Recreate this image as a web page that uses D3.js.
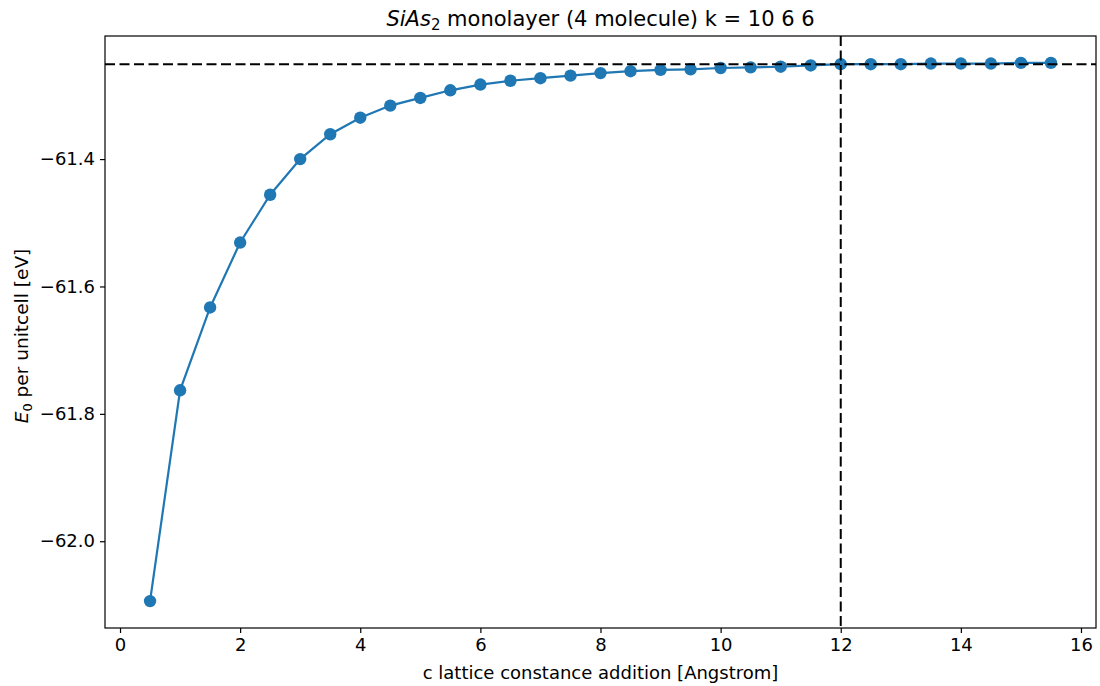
<!DOCTYPE html>
<html>
<head>
<meta charset="utf-8">
<script src="https://cdn.jsdelivr.net/npm/d3@7"></script>
<style>
  body { margin: 0; background: #fff; }
  text { font-family: "DejaVu Sans", sans-serif; fill: #000; }
</style>
</head>
<body>
<div id="chart"></div>
<script>
// c lattice addition [Angstrom]
var cAdd = [0.5, 1.0, 1.5, 2.0, 2.5, 3.0, 3.5, 4.0, 4.5, 5.0, 5.5, 6.0, 6.5, 7.0, 7.5, 8.0,
            8.5, 9.0, 9.5, 10.0, 10.5, 11.0, 11.5, 12.0, 12.5, 13.0, 13.5, 14.0, 14.5, 15.0, 15.5];
// E0 per unitcell [eV]
var energy = [-62.094, -61.763, -61.633, -61.531, -61.456, -61.400, -61.361, -61.335, -61.316,
              -61.304, -61.292, -61.283, -61.277, -61.273, -61.269, -61.265, -61.262, -61.260,
              -61.259, -61.257, -61.256, -61.255, -61.253, -61.251, -61.251, -61.251, -61.250,
              -61.250, -61.250, -61.249, -61.249];
var xTicks = [0, 2, 4, 6, 8, 10, 12, 14, 16];
var yTicks = [-61.4, -61.6, -61.8, -62.0];
var cutoff = 12;

var data = cAdd.map(function (c, i) { return { c: c, e: energy[i] }; });
var eCut = energy[cAdd.indexOf(cutoff)];

var margin = { top: 36, right: 4, bottom: 58, left: 105 };
var width = 1100 - margin.left - margin.right;
var height = 686 - margin.top - margin.bottom;

var svg = d3.select("#chart").append("svg")
    .attr("width", 1100)
    .attr("height", 686);

var g = svg.append("g")
    .attr("transform", "translate(" + margin.left + "," + margin.top + ")");

// matplotlib style 5% margins
var xExt = d3.extent(cAdd), yExt = d3.extent(energy);
var xPad = (xExt[1] - xExt[0]) * 0.05, yPad = (yExt[1] - yExt[0]) * 0.05;

var x = d3.scaleLinear()
    .domain([xExt[0] - xPad, xExt[1] + xPad])
    .range([0, width]);
var y = d3.scaleLinear()
    .domain([yExt[0] - yPad, yExt[1] + yPad])
    .range([height, 0]);

var fmt = function (d) { return d3.format(".1f")(d).replace("-", "\u2212"); };

var xAxis = g.append("g")
    .attr("transform", "translate(0," + height + ")")
    .call(d3.axisBottom(x).tickValues(xTicks).tickSize(5).tickPadding(5).tickFormat(d3.format("d")));
var yAxis = g.append("g")
    .call(d3.axisLeft(y).tickValues(yTicks).tickSize(5).tickPadding(5).tickFormat(fmt));

[xAxis, yAxis].forEach(function (ax) {
    ax.select(".domain").remove();
    ax.selectAll("line").attr("stroke", "#000").attr("stroke-width", 1.2);
    ax.selectAll("text").attr("font-size", 18).attr("font-family", "DejaVu Sans").attr("fill", "#000");
});

// data line + markers
var valueline = d3.line()
    .x(function (d) { return x(d.c); })
    .y(function (d) { return y(d.e); });

g.append("path")
    .datum(data)
    .attr("d", valueline)
    .attr("fill", "none")
    .attr("stroke", "#1f77b4")
    .attr("stroke-width", 2.2);

g.selectAll(".pt")
    .data(data)
    .enter().append("circle")
    .attr("class", "pt")
    .attr("cx", function (d) { return x(d.c); })
    .attr("cy", function (d) { return y(d.e); })
    .attr("r", 6.2)
    .attr("fill", "#1f77b4");

// reference lines
g.append("line")
    .attr("x1", 0).attr("x2", width)
    .attr("y1", y(eCut)).attr("y2", y(eCut))
    .attr("stroke", "#000").attr("stroke-width", 2)
    .attr("stroke-dasharray", "10,4.5");
g.append("line")
    .attr("x1", x(cutoff)).attr("x2", x(cutoff))
    .attr("y1", 0).attr("y2", height)
    .attr("stroke", "#000").attr("stroke-width", 2)
    .attr("stroke-dasharray", "10,4.5");

// frame
g.append("rect")
    .attr("width", width).attr("height", height)
    .attr("fill", "none").attr("stroke", "#000").attr("stroke-width", 1.2);

// title
var title = svg.append("text")
    .attr("x", margin.left + width / 2)
    .attr("y", 26)
    .attr("text-anchor", "middle")
    .attr("font-size", 21);
title.append("tspan").attr("font-style", "italic").text("SiAs");
title.append("tspan").attr("font-size", 15).attr("dy", 4).text("2");
title.append("tspan").attr("dy", -4).text(" monolayer (4 molecule) k = 10 6 6");

// x label
svg.append("text")
    .attr("x", margin.left + width / 2)
    .attr("y", 679)
    .attr("text-anchor", "middle")
    .attr("font-size", 18)
    .text("c lattice constance addition [Angstrom]");

// y label
var ylab = svg.append("text")
    .attr("transform", "translate(28," + 336 + ") rotate(-90)")
    .attr("text-anchor", "middle")
    .attr("font-size", 18.5);
ylab.append("tspan").attr("font-style", "italic").text("E");
ylab.append("tspan").attr("font-size", 13).attr("dy", 4).text("0");
ylab.append("tspan").attr("dy", -4).text(" per unitcell [eV]");
</script>
</body>
</html>
